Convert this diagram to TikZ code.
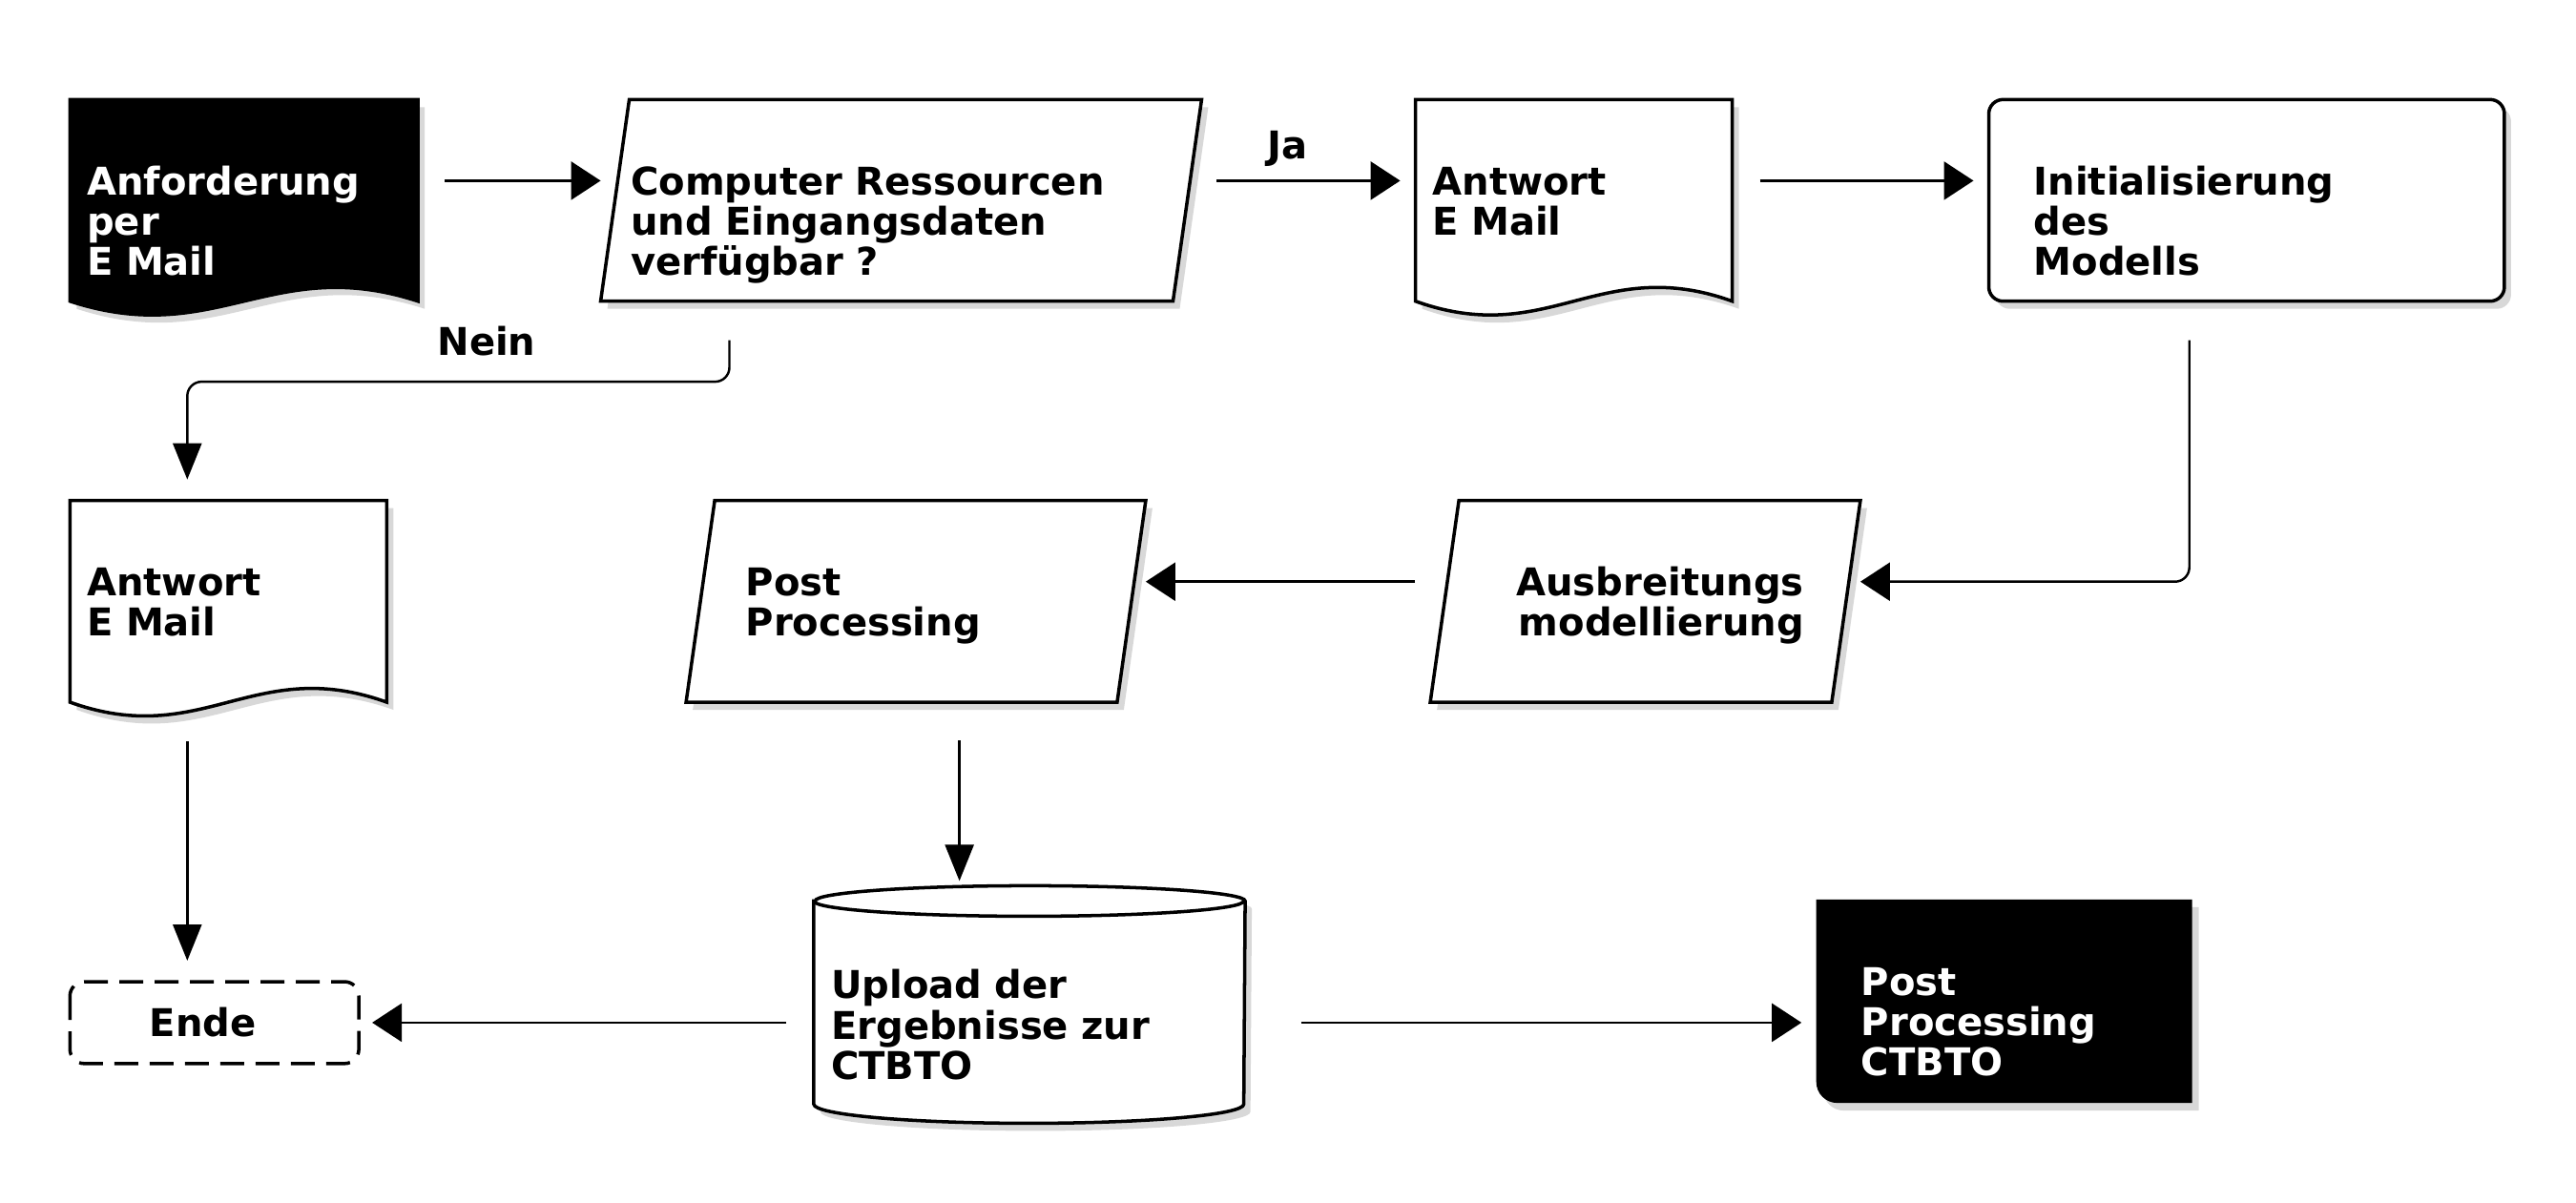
\documentclass[tikz,border=0pt]{standalone}
\usepackage{fontspec}
\setmainfont{DejaVu Sans}
\usetikzlibrary{arrows.meta,calc,backgrounds,shadows}

\begin{document}
\begin{tikzpicture}[
  every node/.style={font=\bfseries\fontsize{11.4}{12}\selectfont},
  box/.style={rectangle, inner sep=0pt, align=left, text height=0.3cm,
              text depth=0.42cm, minimum height=2.1cm},
  shp/.style={draw, line width=1pt, fill=white,
              drop shadow={shadow xshift=0.07cm, shadow yshift=-0.08cm,
                           fill=black!30}},
  arr/.style={-{Triangle[length=0.31cm,width=0.4cm]}, line width=0.7pt},
  varr/.style={-{Triangle[length=0.38cm,width=0.3cm]}, line width=0.7pt},
  lbl/.style={inner sep=0pt, text height=0.3cm, text depth=0pt}
]
  \useasboundingbox (0,0) rectangle (27,-12.6);

  % first row
  \node[box, minimum width=3.634cm, text width=3.288cm, text=white] (req)
    at (2.557,-2.1) {Anforderung\\per\\E Mail};
  \node[box, minimum width=6.285cm, text width=5.665cm] (check)
    at (9.445,-2.1) {Computer Ressourcen\\und Eingangsdaten\\verfügbar ?};
  \node[box, minimum width=3.306cm, text width=2.962cm] (reply)
    at (16.496,-2.1) {Antwort\\E Mail};
  \node[box, minimum width=5.39cm, text width=4.46cm] (init)
    at (23.547,-2.1) {Initialisierung\\des\\Modells};

  % second row
  \node[box, minimum width=3.306cm, text width=2.96cm] (refuse)
    at (2.393,-6.303) {Antwort\\E Mail};
  \node[box, minimum width=4.804cm, text width=3.566cm] (post)
    at (9.6,-6.303) {Post\\Processing};
  \node[box, minimum width=4.494cm, text width=3.324cm, align=right] (disp)
    at (17.245,-6.303) {Ausbreitungs\\modellierung};

  % third row
  \node[box, minimum width=4.507cm, minimum height=2.476cm, text width=4.155cm]
    (upload) at (10.79,-10.529) {Upload der\\Ergebnisse zur\\CTBTO};
  \node[box, minimum width=3.014cm, minimum height=0.844cm, text width=1.36cm,
        text depth=0cm] (done) at (2.247,-10.719) {Ende};
  \node[box, minimum width=3.926cm, minimum height=2.118cm, text width=2.996cm,
        text=white] (ctbto) at (21.007,-10.495) {Post\\Processing\\CTBTO};

  % shapes behind the texts
  \begin{scope}[on background layer]
    \foreach \n/\c in {req/black, reply/white, refuse/white}
      \draw[shp, fill=\c] (\n.north west) -- (\n.north east) -- (\n.south east)
        .. controls ($(\n.south east)!0.42!(\n.south west)+(0,0.5)$)
        and ($(\n.south west)!0.42!(\n.south east)-(0,0.5)$) .. (\n.south west)
        -- cycle;
    \foreach \n in {check, post, disp}
      \draw[shp] ([xshift=0.3cm]\n.north west) -- (\n.north east)
        -- ([xshift=-0.3cm]\n.south east) -- (\n.south west) -- cycle;
    \draw[shp, rounded corners=0.15cm] (init.north west) rectangle (init.south east);
    \draw[shp] ([yshift=-0.16cm]upload.north west) -- ([yshift=0.2cm]upload.south west)
      arc[start angle=180, end angle=360, x radius=2.2535cm, y radius=0.2cm]
      -- ([yshift=-0.16cm]upload.north east)
      arc[start angle=0, end angle=180, x radius=2.2535cm, y radius=0.16cm] -- cycle;
    \draw[line width=1pt] ([yshift=-0.16cm]upload.north west)
      arc[start angle=180, end angle=360, x radius=2.2535cm, y radius=0.16cm];
    \draw[line width=1pt, dash pattern=on 0.25cm off 0.12cm, rounded corners=0.15cm]
      (done.north west) rectangle (done.south east);
    \fill[shp, fill=black, draw=none] (ctbto.north west) -- (ctbto.north east)
      -- (ctbto.south east) -- ([xshift=0.22cm]ctbto.south west)
      arc[start angle=270, end angle=180, radius=0.22cm] -- cycle;
  \end{scope}

  % connectors
  \draw[arr, shorten <=0.28cm] ([yshift=0.05cm]req.mid east) -- ([yshift=0.05cm]check.mid west);
  \draw[arr, shorten <=0.16cm, shorten >=0.16cm] ([yshift=0.05cm]check.mid east)
    -- node[lbl, above=0.22cm, pos=0.4] (ja) {Ja} ([yshift=0.05cm]reply.mid west);
  \draw[arr, shorten <=0.29cm, shorten >=0.16cm]
    ([yshift=0.05cm]reply.mid east) -- ([yshift=0.05cm]init.mid west);
  \draw[varr, rounded corners=0.15cm, shorten <=0.41cm, shorten >=0.22cm]
    ([xshift=-1.8cm]check.south) -- ++(0,-0.844)
    -| node[lbl, above=0.265cm, pos=0.224] (nein) {Nein} ([xshift=-0.43cm]refuse.north);
  \draw[arr, rounded corners=0.15cm, shorten <=0.41cm]
    ([xshift=-0.6cm]init.south) |- ([yshift=0.05cm]disp.mid east);
  \draw[arr, shorten <=0.16cm] ([yshift=0.05cm]disp.mid west) -- ([yshift=0.05cm]post.mid east);
  \draw[varr, shorten <=0.4cm, shorten >=0.05cm]
    ([xshift=0.456cm]post.south) -- ([xshift=0.456cm]post.south |- upload.north);
  \draw[varr, shorten <=0.41cm, shorten >=0.22cm]
    ([xshift=-0.43cm]refuse.south) -- ([xshift=-0.43cm]refuse.south |- done.north);
  \draw[arr, shorten <=0.29cm, shorten >=0.14cm] (upload.west |- done.east) -- (done.east);
  \draw[arr, shorten <=0.585cm, shorten >=0.155cm]
    (upload.east |- done.east) -- (ctbto.west |- done.east);
\end{tikzpicture}
\end{document}
